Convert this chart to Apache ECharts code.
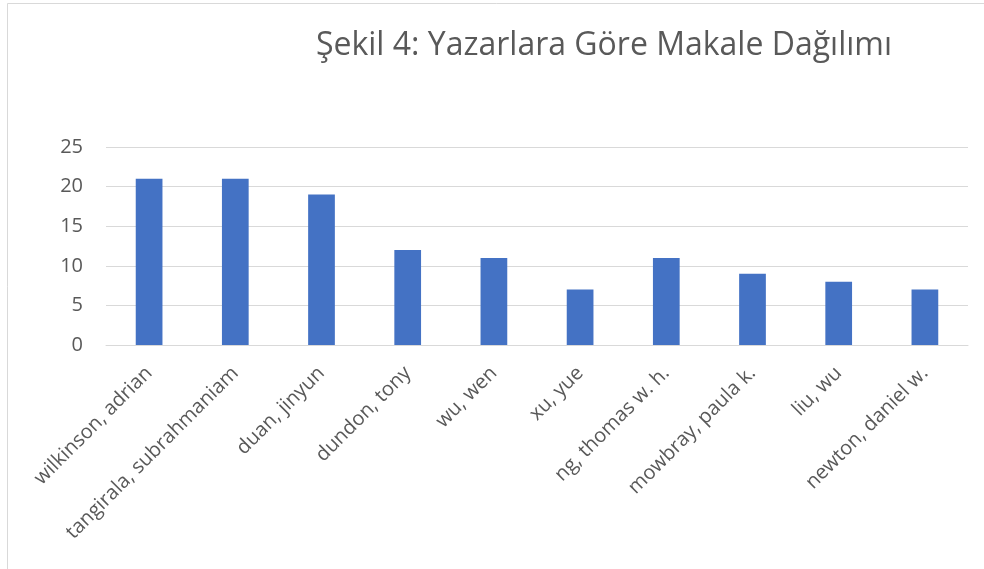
<!DOCTYPE html>
<html>
<head>
<meta charset="utf-8">
<script src="https://cdn.jsdelivr.net/npm/echarts@6/dist/echarts.min.js"></script>
<style>
  html, body { margin: 0; padding: 0; background: #fff; }
  #chart { width: 984px; height: 569px; }
</style>
</head>
<body>
<div id="chart"></div>
<script>
const titleText = 'Şekil 4: Yazarlara Göre Makale Dağılımı'
const authors = [
  'wilkinson, adrian',
  'tangirala, subrahmaniam',
  'duan, jinyun',
  'dundon, tony',
  'wu, wen',
  'xu, yue',
  'ng, thomas w. h.',
  'mowbray, paula k.',
  'liu, wu',
  'newton, daniel w.',
]
const articleCounts = [21, 21, 19, 12, 11, 7, 11, 9, 8, 7]
const yTicks = [0, 5, 10, 15, 20, 25]

const FONT = '"Open Sans", "Noto Sans", sans-serif'
const TEXT = '#595959'
const LINE = '#d9d9d9'

const chart = echarts.init(document.getElementById('chart'))

chart.setOption({
  animation: false,
  backgroundColor: '#fff',
  textStyle: { fontFamily: FONT },
  title: {
    text: titleText,
    left: 599,
    top: 25,
    textAlign: 'center',
    textStyle: { fontFamily: FONT, fontSize: 32, fontWeight: 'normal', color: TEXT },
  },
  graphic: [
    {
      type: 'rect',
      shape: { x: 7.5, y: 3.5, width: 1000, height: 600 },
      style: { fill: 'none', stroke: LINE, lineWidth: 1 },
      silent: true,
    },
  ],
  grid: { left: 106, right: 16, top: 147, bottom: 224, outerBoundsMode: 'none' },
  xAxis: {
    type: 'category',
    data: authors,
    axisTick: { show: false },
    axisLine: { lineStyle: { color: LINE, width: 1 } },
    axisLabel: {
      interval: 0,
      rotate: 45,
      margin: 25,
      color: TEXT,
      fontSize: 20,
      fontFamily: FONT,
    },
  },
  yAxis: {
    type: 'value',
    min: yTicks[0],
    max: yTicks[yTicks.length - 1],
    interval: 5,
    axisLine: { show: false },
    axisTick: { show: false },
    splitLine: { lineStyle: { color: LINE, width: 1 } },
    axisLabel: { color: TEXT, fontSize: 20, fontFamily: FONT, margin: 23 },
  },
  series: [
    {
      type: 'bar',
      data: articleCounts,
      barWidth: '31%',
      itemStyle: { color: '#4472c4' },
    },
  ],
})
</script>
</body>
</html>
